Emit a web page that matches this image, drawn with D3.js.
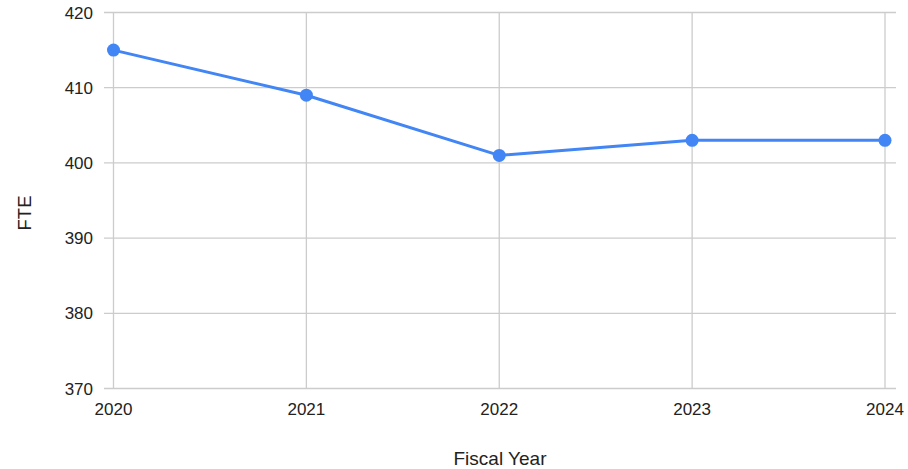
<!DOCTYPE html>
<html>
<head>
<meta charset="utf-8">
<script src="https://cdn.jsdelivr.net/npm/d3@7"></script>
<style>
  body { margin: 0; background: white; }
  text { font-family: "Liberation Sans", Arial, sans-serif; fill: #222; }
</style>
</head>
<body>
<div class="container"></div>
<script>
const years = [2020, 2021, 2022, 2023, 2024]
const fte = [415, 409, 401, 403, 403]
const yTicks = [370, 380, 390, 400, 410, 420]

const data = years.map((y, i) => ({year: y, fte: fte[i]}))

const W = 908, H = 469
const svg = d3.select(".container").append("svg")
    .attr("width", W).attr("height", H)

// Scales
const xScale = d3.scalePoint().domain(years).range([113.5, 885])
const yScale = d3.scaleLinear().domain([370, 420]).range([388.5, 12.5])

// Horizontal grid (wider than the point range)
svg.append("g")
    .selectAll("line")
    .data(yTicks)
    .enter().append("line")
    .attr("x1", 104).attr("x2", 896)
    .attr("y1", d => yScale(d)).attr("y2", d => yScale(d))
    .attr("stroke", "#ccc").attr("stroke-width", 1.3)

// Vertical grid
svg.append("g")
    .selectAll("line")
    .data(years)
    .enter().append("line")
    .attr("x1", d => xScale(d)).attr("x2", d => xScale(d))
    .attr("y1", yScale(420)).attr("y2", yScale(370))
    .attr("stroke", "#ccc").attr("stroke-width", 1.3)

// Y tick labels
svg.append("g")
    .selectAll("text")
    .data(yTicks)
    .enter().append("text")
    .text(d => d)
    .attr("x", 93)
    .attr("y", d => yScale(d))
    .attr("dy", "0.36em")
    .attr("text-anchor", "end")
    .attr("font-size", 17)

// X tick labels
svg.append("g")
    .selectAll("text")
    .data(years)
    .enter().append("text")
    .text(d => d)
    .attr("x", d => xScale(d))
    .attr("y", 415)
    .attr("text-anchor", "middle")
    .attr("font-size", 17)

// Axis titles
svg.append("text")
    .text("FTE")
    .attr("transform", "translate(31, 213) rotate(-90)")
    .attr("text-anchor", "middle")
    .attr("font-size", 18.5)

svg.append("text")
    .text("Fiscal Year")
    .attr("x", 500).attr("y", 464.5)
    .attr("text-anchor", "middle")
    .attr("font-size", 19)

// Line
const line = d3.line()
    .x(d => xScale(d.year))
    .y(d => yScale(d.fte))

svg.append("path")
    .datum(data)
    .attr("fill", "none")
    .attr("stroke", "#4285f4")
    .attr("stroke-width", 3)
    .attr("stroke-linejoin", "round")
    .attr("d", line)

// Points
svg.selectAll(".pt")
    .data(data)
    .enter().append("circle")
    .attr("cx", d => xScale(d.year))
    .attr("cy", d => yScale(d.fte))
    .attr("r", 6.5)
    .attr("fill", "#4285f4")
</script>
</body>
</html>
